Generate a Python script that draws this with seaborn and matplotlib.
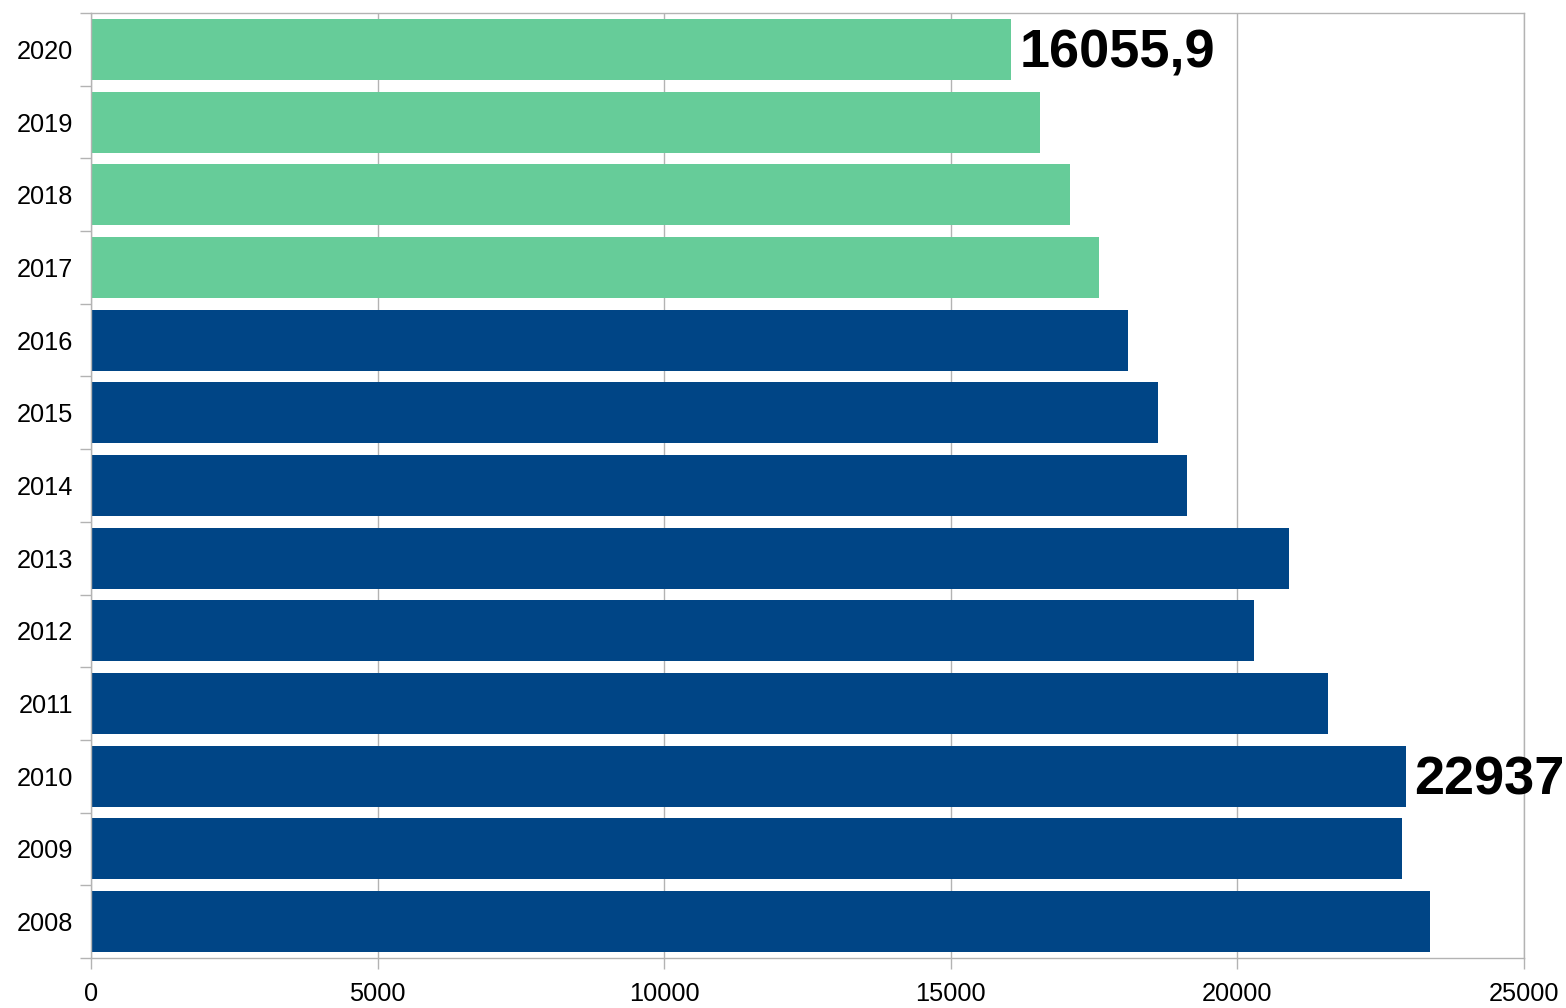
import numpy as np
import pandas as pd
import matplotlib
matplotlib.use("Agg")
import matplotlib.pyplot as plt
import seaborn as sns

# Datos (de arriba a abajo)
anios = ["2020", "2019", "2018", "2017", "2016", "2015", "2014",
         "2013", "2012", "2011", "2010", "2009", "2008"]
valores = [16055.9, 16560, 17080, 17590, 18090, 18620, 19120,
           20900, 20290, 21580, 22937, 22870, 23360]
grupos = ["nuevo"] * 4 + ["anterior"] * 9
etiquetas = {"2020": "16055,9", "2010": "22937"}
xticks = [0, 5000, 10000, 15000, 20000, 25000]

colores = {"nuevo": "#66cc99", "anterior": "#004586"}
gris = "#b3b3b3"

sns.set_theme(style="white")
plt.rcParams["font.family"] = ["Liberation Sans", "DejaVu Sans"]

df = pd.DataFrame({"anio": anios, "valor": valores, "grupo": grupos})

fig = plt.figure(figsize=(15.66, 10.08), dpi=100)
ax = fig.add_axes([91 / 1566, 1 - 958 / 1008, (1524 - 91) / 1566, (958 - 13) / 1008])

sns.barplot(data=df, x="valor", y="anio", hue="grupo", palette=colores,
            dodge=False, width=0.84, legend=False, orient="h",
            saturation=1, linewidth=0, ax=ax)

ax.set_xlim(0, 25000)
ax.set_ylim(len(anios) - 0.5, -0.5)
ax.set_xticks(xticks)
ax.set_xticklabels([str(t) for t in xticks])
ax.set_xlabel("")
ax.set_ylabel("")

# rejilla y marco
ax.set_axisbelow(True)
ax.grid(axis="x", color=gris, linewidth=1)
ax.grid(axis="y", visible=False)
for s in ax.spines.values():
    s.set_visible(True)
    s.set_color(gris)
    s.set_linewidth(1)

# marcas
ax.set_yticks(np.arange(-0.5, len(anios), 1), minor=True)
ax.tick_params(axis="y", which="major", length=0, pad=13, labelsize=18.3, labelcolor="black")
ax.tick_params(axis="y", which="minor", length=8, width=1, color=gris, left=True)
ax.tick_params(axis="x", which="major", length=8, width=1, color=gris, bottom=True,
               direction="out", pad=9, labelsize=18.3, labelcolor="black")

# etiquetas de valor
for i, (a, v) in enumerate(zip(anios, valores)):
    if a in etiquetas:
        ax.annotate(etiquetas[a], xy=(v, i), xytext=(8, -4),
                    textcoords="offset pixels", ha="left", va="center",
                    fontsize=39, fontweight="bold", color="black",
                    annotation_clip=False)

fig.savefig("out.png", dpi=100)
